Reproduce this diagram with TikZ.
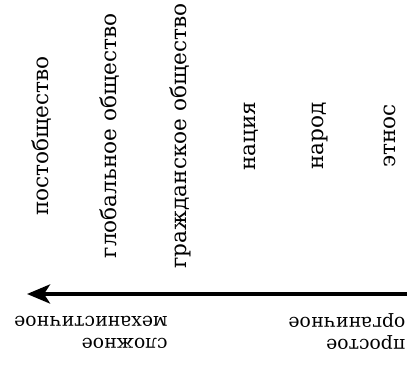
\documentclass[tikz,border=0pt]{standalone}
\usepackage{fontspec}
\setmainfont{DejaVu Serif}
\usetikzlibrary{arrows.meta}
\begin{document}
\begin{tikzpicture}[x=1pt,y=1pt,
  vlab/.style={rotate=90,inner sep=0pt,font=\fontsize{21.6}{26}\selectfont},
  blab/.style={rotate=180,inner sep=0pt,align=left,font=\fontsize{18.8}{22}\selectfont}]
\useasboundingbox (0,0) rectangle (407,366);
\node[vlab] (p1) at (42,230) {постобщество};
\node[vlab] (p2) at (110,230) {глобальное общество};
\node[vlab] (p3) at (180,230) {гражданское общество};
\node[vlab] (p4) at (251,230) {нация};
\node[vlab] (p5) at (320,230) {народ};
\node[vlab] (p6) at (390,230) {этнос};
\coordinate (s) at (420,72);
\coordinate (e) at (27,72);
\draw[line width=4pt,-{Stealth[length=23pt,width=19pt,inset=6pt]}] (s) -- (e);
\node[blab] (l1) at (91,34) {сложное\\механистичное};
\node[blab] (l2) at (347,34) {простое\\органичное};
\end{tikzpicture}
\end{document}
